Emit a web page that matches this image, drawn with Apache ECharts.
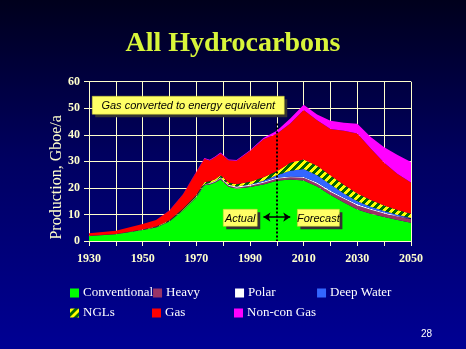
<!DOCTYPE html>
<html>
<head>
<meta charset="utf-8">
<script src="https://cdn.jsdelivr.net/npm/echarts@6/dist/echarts.min.js"></script>
<style>
html,body{margin:0;padding:0;width:466px;height:349px;overflow:hidden;background:#000060;}
#c{width:466px;height:349px;}
</style>
</head>
<body>
<div id="c"></div>
<script>
// ---- data (Gboe/a, stacked components) ----
var years        = [1930,1940,1950,1955,1960,1965,1970,1973,1975,1977,1979,1980,1982,1985,1990,1995,2000,2005,2010,2015,2020,2025,2030,2035,2040,2045,2050];
var conventional = [1.9, 2.5, 4.1, 5.1, 7.3, 11.5,16.5,21.0,21.3,22.0,23.2,22.3,20.4,19.7,20.3,21.3,22.7,23.2,22.8,20.5,17.3,14.5,11.9,10.3, 9.0, 7.9, 6.9];
var heavy        = [0.1, 0.1, 0.15,0.2, 0.2, 0.2, 0.3, 0.3, 0.3, 0.3, 0.4, 0.4, 0.4, 0.4, 0.5, 0.6, 0.7, 0.8, 1.0, 1.1, 1.2, 1.4, 1.5, 1.5, 1.4, 1.3, 1.3];
var polar        = [0,   0,   0,   0,   0,   0,   0.05,0.1, 0.2, 0.3, 0.4, 0.4, 0.4, 0.4, 0.4, 0.4, 0.4, 0.3, 0.3, 0.4, 0.4, 0.4, 0.4, 0.3, 0.3, 0.2, 0.2];
var deepWater    = [0,   0,   0,   0,   0,   0,   0,   0,   0,   0,   0,   0,   0,   0.05,0.1, 0.4, 1.0, 2.2, 3.0, 2.8, 2.4, 1.6, 1.2, 0.8, 0.6, 0.5, 0.3];
var ngls         = [0,   0.05,0.1, 0.15,0.3, 0.4, 0.5, 0.7, 0.7, 0.7, 0.8, 0.8, 0.8, 0.8, 1.0, 1.3, 1.5, 3.0, 3.6, 3.5, 3.4, 3.3, 2.9, 2.5, 2.1, 1.8, 1.6];
var gas          = [0.9, 1.25,2.05,2.45,3.7, 5.4, 8.65,8.9, 7.8, 8.2, 8.2, 8.3, 8.4, 8.85,11.6,14.3,14.1,14.8,18.6,17.2,17.5,20.3,22.6,19.4,16.1,13.5,11.7];
var nonConGas    = [0,   0,   0,   0,   0.1, 0.1, 0.2, 0.3, 0.3, 0.3, 0.3, 0.3, 0.3, 0.3, 0.3, 0.5, 1.1, 1.8, 2.0, 2.1, 3.1, 3.0, 3.7, 4.4, 5.8, 7.2, 7.8];
var seriesNames  = ['Conventional','Heavy','Polar','Deep Water','NGLs','Gas','Non-con Gas'];
var yTicks       = [0,10,20,30,40,50,60];
var xTicks       = [1930,1950,1970,1990,2010,2030,2050];
var forecastYear = 2000;

// ---- stripe pattern for NGLs ----
var pc = document.createElement('canvas');
pc.width = 8; pc.height = 8;
var pctx = pc.getContext('2d');
for (var px = 0; px < 8; px++) {
  for (var py = 0; py < 8; py++) {
    pctx.fillStyle = ((px + py) % 8) < 4 ? '#ffff00' : '#006600';
    pctx.fillRect(px, py, 1, 1);
  }
}
var nglPattern = { image: pc, repeat: 'repeat' };

var colors = ['#00ff00', '#993366', '#ffffff', '#3366ff', nglPattern, '#ff0000', '#ff00ff'];
var values = [conventional, heavy, polar, deepWater, ngls, gas, nonConGas];

// value first, year second, so the stack is computed on the value dimension
function pairs(arr) { return years.map(function (y, i) { return [arr[i], y]; }); }

var series = seriesNames.map(function (n, i) {
  return {
    name: n, type: 'line', stack: 'all', data: pairs(values[i]),
    encode: { x: 1, y: 0 },
    showSymbol: false, symbol: 'none', smooth: false,
    color: colors[i],
    lineStyle: { width: 0 },
    areaStyle: { opacity: 1, color: colors[i] },
    itemStyle: { color: colors[i] },
    silent: true, z: 2
  };
});

// annotation lines (data coordinates)
series.push({
  type: 'line', data: [], silent: true, z: 5,
  markLine: {
    silent: true, animation: false,
    label: { show: false },
    data: [
      [{ coord: [forecastYear, 44.3], symbol: 'none', lineStyle: { color: '#000000', width: 2, type: [2, 2] } },
       { coord: [forecastYear, 0], symbol: 'none' }],
      [{ coord: [1995, 9.0], symbol: 'arrow', symbolSize: [7, 7], lineStyle: { color: '#000000', width: 1.5, type: 'solid' } },
       { coord: [2005, 9.0], symbol: 'arrow', symbolSize: [7, 7] }]
    ]
  }
});

function boxText(x, y, w, h, txt, fs) {
  return {
    type: 'group', left: x, top: y, z: 50, children: [
      { type: 'rect', z: 50, shape: { x: 3, y: 3, width: w, height: h }, style: { fill: '#333333' } },
      { type: 'rect', z: 51, shape: { x: 0, y: 0, width: w, height: h }, style: { fill: '#ffff66', stroke: '#cccc33', lineWidth: 0.5 } },
      { type: 'text', z: 52, x: w / 2, y: h / 2 + 1, style: { text: txt, fill: '#000000', font: 'italic ' + fs + 'px "Liberation Sans", Arial, sans-serif', align: 'center', verticalAlign: 'middle' } }
    ]
  };
}

var chart = echarts.init(document.getElementById('c'), null, { renderer: 'canvas' });
chart.setOption({
  animation: false,
  backgroundColor: {
    type: 'linear', x: 0, y: 0, x2: 0, y2: 1,
    colorStops: [{ offset: 0, color: '#00001c' }, { offset: 0.45, color: '#000060' }, { offset: 1, color: '#000094' }]
  },
  title: {
    text: 'All Hydrocarbons', left: 'center', top: 25,
    textStyle: { fontFamily: 'Liberation Serif', fontSize: 28, fontWeight: 'bold', color: '#d8f53a' }
  },
  legend: {
    data: seriesNames, left: 70, top: 283, width: 340, padding: 0,
    orient: 'horizontal', icon: 'rect', itemWidth: 9, itemHeight: 9, itemGap: 0,
    selectedMode: false,
    textStyle: { fontFamily: 'Liberation Serif', fontSize: 13, color: '#ffffff', width: 69, lineHeight: 20, padding: [0, 0, 0, -1] }
  },
  grid: { left: 89, right: 55, top: 81.7, bottom: 108, containLabel: false },
  xAxis: {
    type: 'value', min: 1930, max: 2050, interval: 10,
    axisLine: { show: true, lineStyle: { color: '#ffffcc', width: 1 } },
    axisTick: { show: true, length: 5, lineStyle: { color: '#ffffcc' } },
    splitLine: { show: true, lineStyle: { color: '#ffffcc', width: 1 } },
    axisLabel: {
      margin: 12, color: '#ffffcc', fontFamily: 'Liberation Serif', fontWeight: 'bold', fontSize: 12,
      formatter: function (v) { return xTicks.indexOf(v) >= 0 ? String(v) : ''; }
    }
  },
  yAxis: {
    type: 'value', min: 0, max: 60, interval: 10,
    name: 'Production, Gboe/a', nameLocation: 'middle', nameGap: 24, nameMoveOverlap: false,
    nameTextStyle: { fontFamily: 'Liberation Serif', fontSize: 16, color: '#ffffcc', padding: [0, 32, 0, 0] },
    axisLine: { show: true, lineStyle: { color: '#ffffcc', width: 1 } },
    axisTick: { show: true, length: 5, lineStyle: { color: '#ffffcc' } },
    splitLine: { show: true, lineStyle: { color: '#ffffcc', width: 1 } },
    axisLabel: {
      margin: 9, color: '#ffffcc', fontFamily: 'Liberation Serif', fontWeight: 'bold', fontSize: 12,
      formatter: function (v) { return yTicks.indexOf(v) >= 0 ? String(v) : ''; }
    }
  },
  series: series,
  graphic: [
    boxText(92, 96, 192, 18, 'Gas converted to energy equivalent', 11),
    boxText(223, 209, 34, 17, 'Actual', 11),
    boxText(297, 209, 42, 17, 'Forecast', 11),
    { type: 'text', left: 421, top: 329, style: { text: '28', fill: '#ffffff', font: '10px "Liberation Sans", Arial, sans-serif' } }
  ]
});
</script>
</body>
</html>
